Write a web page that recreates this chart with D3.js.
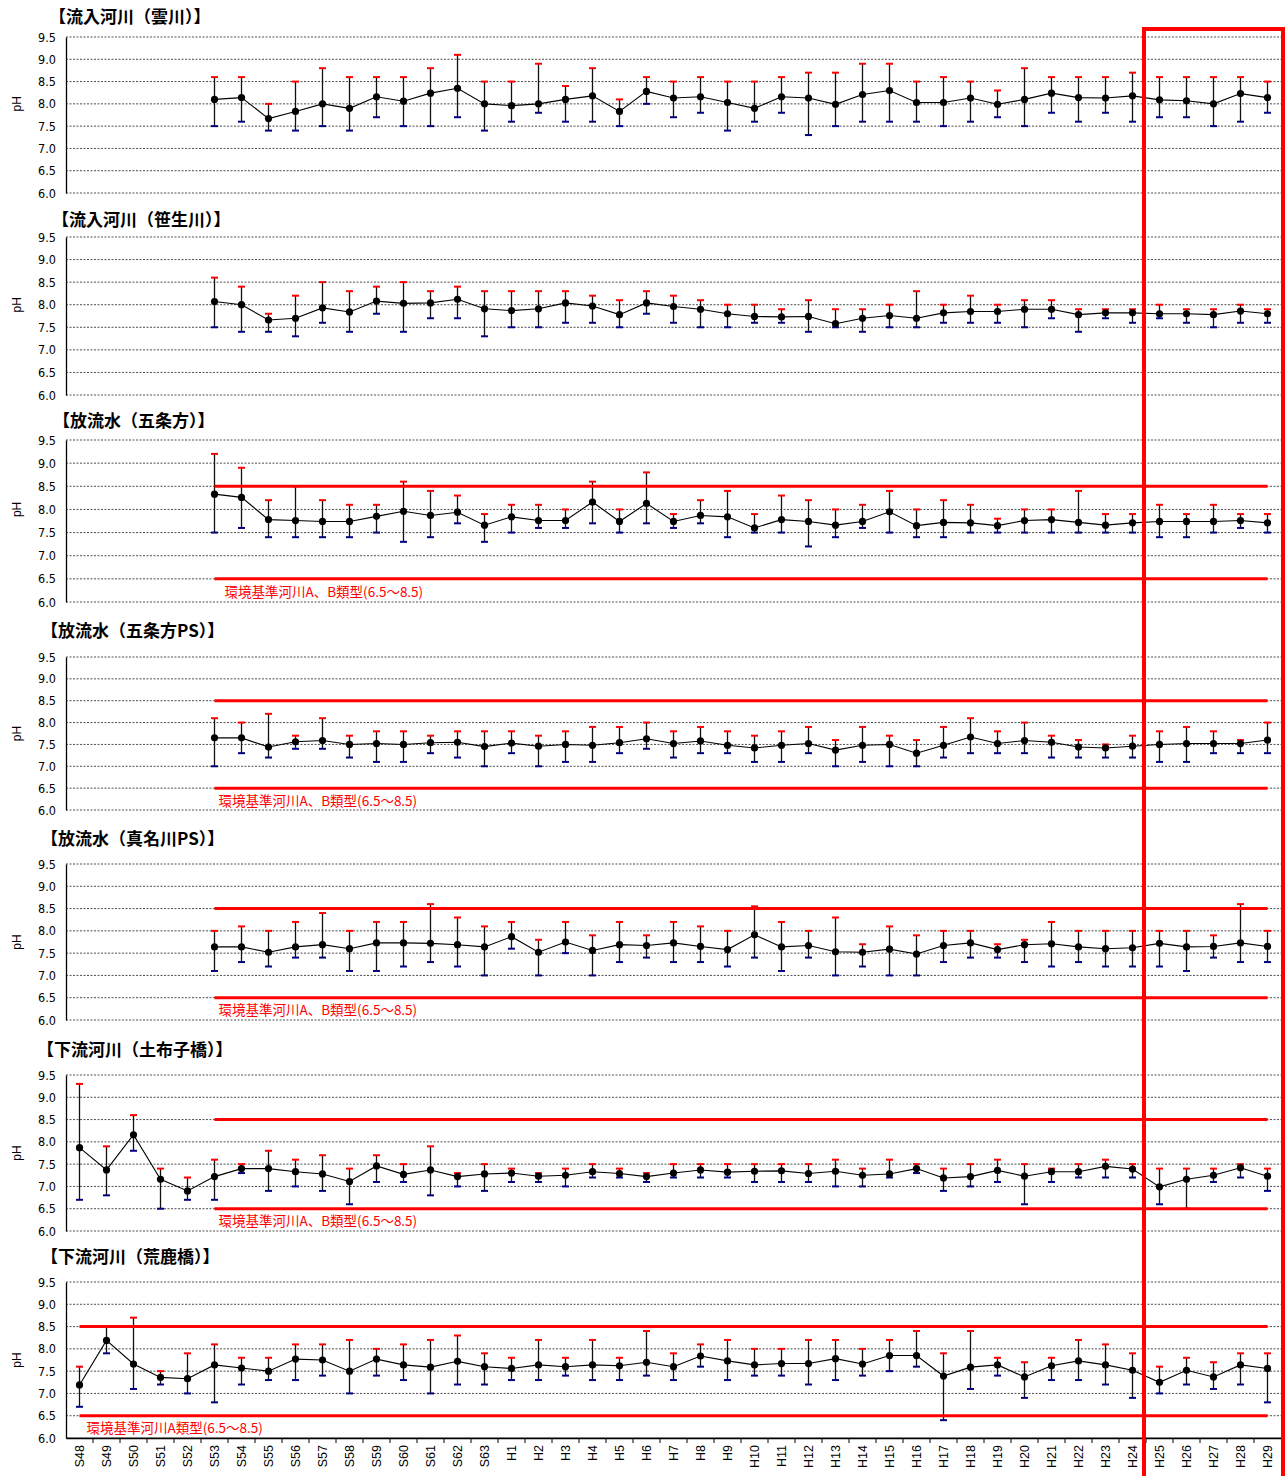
<!DOCTYPE html>
<html>
<head>
<meta charset="utf-8">
<script src="https://cdn.jsdelivr.net/npm/d3@7"></script>
<style>
  body { margin: 0; background: #fff; }
  svg { display: block; }
</style>
</head>
<body>
<svg id="chart" width="1287" height="1476"></svg>
<script>
// categories (fiscal years)
const categories = ["S48", "S49", "S50", "S51", "S52", "S53", "S54", "S55", "S56", "S57", "S58", "S59",
  "S60", "S61", "S62", "S63", "H1", "H2", "H3", "H4", "H5", "H6", "H7", "H8", "H9", "H10", "H11",
  "H12", "H13", "H14", "H15", "H16", "H17", "H18", "H19", "H20", "H21", "H22", "H23", "H24", "H25",
  "H26", "H27", "H28", "H29"];
const yTicks = [6.0, 6.5, 7.0, 7.5, 8.0, 8.5, 9.0, 9.5];

// 流入河川（雲川） S53-H29
const kumoMean = [8.10, 8.14, 7.67, 7.83, 8.00, 7.90, 8.16, 8.06, 8.24, 8.35, 8.00, 7.96, 8.00, 8.10, 8.18, 7.83, 8.28,
  8.13, 8.16, 8.03, 7.90, 8.16, 8.13, 7.99, 8.21, 8.30, 8.03, 8.03, 8.13, 7.99, 8.10, 8.24, 8.14, 8.13, 8.18, 8.09, 8.07, 8.00, 8.23, 8.14];
const kumoMax = [8.6, 8.6, 8.0, 8.5, 8.8, 8.6, 8.6, 8.6, 8.8, 9.1, 8.5, 8.5, 8.9, 8.4, 8.8, 8.1, 8.6,
  8.5, 8.6, 8.5, 8.5, 8.6, 8.7, 8.7, 8.9, 8.9, 8.5, 8.6, 8.5, 8.3, 8.8, 8.6, 8.6, 8.6, 8.7, 8.6, 8.6, 8.6, 8.6, 8.5];
const kumoMin = [7.5, 7.6, 7.4, 7.4, 7.5, 7.4, 7.7, 7.5, 7.5, 7.7, 7.4, 7.6, 7.8, 7.6, 7.6, 7.5, 8.0,
  7.7, 7.8, 7.4, 7.6, 7.8, 7.3, 7.5, 7.6, 7.6, 7.6, 7.5, 7.6, 7.7, 7.5, 7.8, 7.6, 7.8, 7.6, 7.7, 7.7, 7.5, 7.6, 7.8];

// 流入河川（笹生川） S53-H29
const sasouMean = [8.07, 8.00, 7.66, 7.70, 7.93, 7.84, 8.08, 8.03, 8.04, 8.12, 7.91, 7.87, 7.91, 8.04, 7.97, 7.78, 8.04,
  7.96, 7.90, 7.80, 7.74, 7.73, 7.74, 7.58, 7.70, 7.76, 7.70, 7.82, 7.85, 7.85, 7.90, 7.90, 7.78, 7.82, 7.82, 7.80, 7.80, 7.78, 7.86, 7.80];
const sasouMax = [8.6, 8.4, 7.8, 8.2, 8.5, 8.3, 8.4, 8.5, 8.3, 8.4, 8.3, 8.3, 8.3, 8.3, 8.2, 8.1, 8.3,
  8.2, 8.1, 8.0, 8.0, 7.9, 8.1, 7.9, 7.9, 8.0, 8.3, 8.0, 8.2, 8.0, 8.1, 8.1, 7.9, 7.9, 7.9, 8.0, 7.9, 7.9, 8.0, 7.9];
const sasouMin = [7.5, 7.4, 7.4, 7.3, 7.6, 7.4, 7.8, 7.4, 7.7, 7.7, 7.3, 7.5, 7.5, 7.6, 7.6, 7.5, 7.8,
  7.6, 7.5, 7.5, 7.6, 7.6, 7.4, 7.5, 7.4, 7.5, 7.5, 7.6, 7.6, 7.6, 7.5, 7.7, 7.4, 7.7, 7.6, 7.7, 7.6, 7.5, 7.6, 7.6];

// 放流水（五条方） S53-H29
const gojoMean = [8.33, 8.26, 7.78, 7.76, 7.74, 7.74, 7.85, 7.96, 7.87, 7.94, 7.66, 7.84, 7.76, 7.76, 8.16, 7.74, 8.13,
  7.74, 7.87, 7.84, 7.60, 7.78, 7.74, 7.66, 7.74, 7.95, 7.65, 7.72, 7.71, 7.65, 7.76, 7.78, 7.72, 7.66, 7.71, 7.74, 7.74, 7.74, 7.76, 7.71];
const gojoMax = [9.2, 8.9, 8.2, 8.5, 8.2, 8.1, 8.1, 8.6, 8.4, 8.3, 7.9, 8.1, 8.1, 8.0, 8.6, 8.0, 8.8,
  7.9, 8.2, 8.4, 7.9, 8.3, 8.2, 8.0, 8.1, 8.4, 8.0, 8.2, 8.1, 7.8, 8.0, 8.0, 8.4, 7.9, 7.9, 8.1, 7.9, 8.1, 7.9, 7.9];
const gojoMin = [7.5, 7.6, 7.4, 7.4, 7.4, 7.4, 7.5, 7.3, 7.4, 7.7, 7.3, 7.5, 7.6, 7.6, 7.7, 7.5, 7.7,
  7.6, 7.7, 7.4, 7.5, 7.5, 7.2, 7.4, 7.6, 7.5, 7.4, 7.4, 7.5, 7.5, 7.5, 7.5, 7.5, 7.5, 7.5, 7.4, 7.4, 7.5, 7.6, 7.5];

// 放流水（五条方PS） S53-H29
const gojoPsMean = [7.65, 7.65, 7.44, 7.56, 7.59, 7.50, 7.52, 7.50, 7.54, 7.55, 7.45, 7.53, 7.46, 7.50, 7.48, 7.54, 7.63,
  7.52, 7.58, 7.48, 7.42, 7.48, 7.52, 7.37, 7.48, 7.50, 7.30, 7.48, 7.67, 7.52, 7.59, 7.55, 7.44, 7.42, 7.46, 7.50, 7.52, 7.52, 7.52, 7.60];
const gojoPsMax = [8.1, 8.0, 8.2, 7.7, 8.1, 7.7, 7.8, 7.8, 7.7, 7.8, 7.8, 7.8, 7.7, 7.8, 7.9, 7.9, 8.0,
  7.8, 7.9, 7.8, 7.7, 7.8, 7.9, 7.6, 7.9, 7.7, 7.6, 7.9, 8.1, 7.8, 8.0, 7.7, 7.6, 7.5, 7.7, 7.8, 7.9, 7.8, 7.6, 8.0];
const gojoPsMin = [7.0, 7.3, 7.2, 7.4, 7.4, 7.2, 7.1, 7.1, 7.3, 7.2, 7.0, 7.3, 7.0, 7.1, 7.1, 7.3, 7.4,
  7.2, 7.3, 7.3, 7.1, 7.1, 7.3, 7.0, 7.1, 7.0, 7.0, 7.2, 7.3, 7.3, 7.3, 7.2, 7.2, 7.2, 7.2, 7.1, 7.1, 7.3, 7.3, 7.3];

// 放流水（真名川PS） S53-H29
const manaPsMean = [7.64, 7.64, 7.52, 7.64, 7.69, 7.60, 7.73, 7.73, 7.72, 7.69, 7.64, 7.87, 7.52, 7.75, 7.56, 7.69, 7.67,
  7.73, 7.65, 7.58, 7.91, 7.64, 7.67, 7.53, 7.52, 7.59, 7.48, 7.67, 7.73, 7.58, 7.69, 7.71, 7.64, 7.60, 7.62, 7.72, 7.64, 7.65, 7.73, 7.65];
const manaPsMax = [8.0, 8.1, 8.0, 8.2, 8.4, 8.0, 8.2, 8.2, 8.6, 8.3, 8.1, 8.2, 7.8, 8.2, 7.9, 8.2, 7.9,
  8.2, 8.1, 8.0, 8.55, 8.2, 8.0, 8.3, 7.7, 8.1, 7.9, 8.0, 8.0, 7.7, 7.8, 8.2, 8.0, 8.0, 8.0, 8.0, 8.0, 7.9, 8.6, 8.0];
const manaPsMin = [7.1, 7.3, 7.2, 7.4, 7.4, 7.1, 7.1, 7.2, 7.3, 7.2, 7.0, 7.6, 7.0, 7.5, 7.0, 7.3, 7.4,
  7.3, 7.3, 7.2, 7.4, 7.1, 7.4, 7.0, 7.2, 7.0, 7.0, 7.3, 7.4, 7.4, 7.3, 7.2, 7.3, 7.2, 7.2, 7.2, 7.1, 7.4, 7.3, 7.3];

// 下流河川（土布子橋） S48-H29
const tofukoMean = [7.87, 7.37, 8.16, 7.16, 6.90, 7.22, 7.40, 7.40, 7.33, 7.28, 7.11, 7.46, 7.27, 7.37, 7.22, 7.28,
  7.30, 7.23, 7.25, 7.33, 7.29, 7.22, 7.30, 7.37, 7.32, 7.34, 7.35, 7.29, 7.34, 7.25, 7.28, 7.40, 7.19, 7.22, 7.36,
  7.23, 7.33, 7.33, 7.45, 7.39, 6.99, 7.16, 7.25, 7.42, 7.23];
const tofukoMax = [9.3, 7.9, 8.6, 7.4, 7.2, 7.6, 7.5, 7.8, 7.6, 7.7, 7.4, 7.7, 7.5, 7.9, 7.3, 7.5,
  7.4, 7.3, 7.4, 7.5, 7.4, 7.3, 7.5, 7.5, 7.5, 7.5, 7.5, 7.5, 7.6, 7.4, 7.6, 7.5, 7.4, 7.5, 7.6,
  7.5, 7.4, 7.5, 7.6, 7.5, 7.4, 7.4, 7.4, 7.5, 7.4];
const tofukoMin = [6.7, 6.8, 7.8, 6.5, 6.7, 6.7, 7.3, 6.9, 7.0, 6.9, 6.6, 7.1, 7.1, 6.8, 7.0, 6.9,
  7.1, 7.1, 7.0, 7.2, 7.2, 7.1, 7.2, 7.2, 7.2, 7.1, 7.1, 7.1, 7.0, 7.0, 7.2, 7.3, 6.9, 7.0, 7.1,
  6.6, 7.1, 7.2, 7.2, 7.2, 6.6, 6.5, 7.1, 7.2, 6.9];

// 下流河川（荒鹿橋） S48-H29
const arashikaMean = [7.19, 8.19, 7.66, 7.36, 7.33, 7.64, 7.57, 7.50, 7.77, 7.75, 7.50, 7.77, 7.64, 7.59, 7.72, 7.60,
  7.56, 7.64, 7.60, 7.64, 7.62, 7.70, 7.60, 7.84, 7.73, 7.64, 7.67, 7.67, 7.78, 7.66, 7.85, 7.85, 7.39, 7.59, 7.64,
  7.37, 7.62, 7.73, 7.64, 7.52, 7.25, 7.52, 7.37, 7.64, 7.56];
const arashikaMax = [7.6, 8.5, 8.7, 7.5, 7.9, 8.1, 7.8, 7.8, 8.1, 8.1, 8.2, 8.0, 8.1, 8.2, 8.3, 7.9,
  7.8, 8.2, 7.8, 8.2, 7.8, 8.4, 7.9, 8.1, 8.2, 8.0, 8.0, 8.2, 8.2, 8.0, 8.2, 8.4, 7.9, 8.4, 7.8,
  7.7, 7.8, 8.2, 8.1, 7.9, 7.6, 7.8, 7.7, 7.9, 7.9];
const arashikaMin = [6.7, 7.9, 7.1, 7.2, 7.0, 6.8, 7.2, 7.3, 7.3, 7.4, 7.0, 7.4, 7.3, 7.0, 7.2, 7.2,
  7.3, 7.3, 7.4, 7.3, 7.3, 7.4, 7.3, 7.6, 7.3, 7.4, 7.4, 7.2, 7.3, 7.4, 7.5, 7.6, 6.4, 7.1, 7.4,
  6.9, 7.3, 7.3, 7.2, 6.9, 7.0, 7.2, 7.1, 7.2, 6.8];

const standardAB = [6.5, 8.5];
const labelAB = "環境基準河川A、B類型(6.5～8.5)";
const labelA = "環境基準河川A類型(6.5～8.5)";

const panels = [
  {title: "【流入河川（雲川）】", mean: kumoMean, max: kumoMax, min: kumoMin, start: "S53",
    top: 37, bottom: 193, titleX: 49, titleY: 17, phAt: 8.0, std: null},
  {title: "【流入河川（笹生川）】", mean: sasouMean, max: sasouMax, min: sasouMin, start: "S53",
    top: 237, bottom: 395, titleX: 52, titleY: 220, phAt: 8.0, std: null},
  {title: "【放流水（五条方）】", mean: gojoMean, max: gojoMax, min: gojoMin, start: "S53",
    top: 440, bottom: 602, titleX: 53, titleY: 421, phAt: 8.0, std: labelAB, stdStart: "S53", labelDx: 10},
  {title: "【放流水（五条方PS）】", mean: gojoPsMean, max: gojoPsMax, min: gojoPsMin, start: "S53",
    top: 657, bottom: 810, titleX: 41, titleY: 631, phAt: null, std: labelAB, stdStart: "S53", labelDx: 4},
  {title: "【放流水（真名川PS）】", mean: manaPsMean, max: manaPsMax, min: manaPsMin, start: "S53",
    top: 864, bottom: 1020, titleX: 41, titleY: 839, phAt: null, std: labelAB, stdStart: "S53", labelDx: 4},
  {title: "【下流河川（土布子橋）】", mean: tofukoMean, max: tofukoMax, min: tofukoMin, start: "S48",
    top: 1075, bottom: 1231, titleX: 37, titleY: 1050, phAt: null, std: labelAB, stdStart: "S53", labelDx: 4},
  {title: "【下流河川（荒鹿橋）】", mean: arashikaMean, max: arashikaMax, min: arashikaMin, start: "S48",
    top: 1282, bottom: 1438, titleX: 41, titleY: 1257, phAt: null, std: labelA, stdStart: "S48", labelDx: 7, xAxis: true}
];

const svg = d3.select("#chart");
const left = 66, right = 1281;
const x = d3.scaleBand().domain(categories).range([left, right]);
const cx = c => x(c) + x.bandwidth() / 2;
const jpFont = "'Noto Sans CJK JP', 'Noto Sans', sans-serif";
const numFont = "'Liberation Sans Narrow', 'DejaVu Sans Condensed', 'Liberation Sans', sans-serif";

panels.forEach(p => {
  const y = d3.scaleLinear().domain([6.0, 9.5]).range([p.bottom, p.top]);
  const g = svg.append("g");
  const startIdx = categories.indexOf(p.start);
  const rows = categories.slice(startIdx).map((c, i) => ({c: c, mean: p.mean[i], max: p.max[i], min: p.min[i]}));

  // title
  g.append("text")
    .attr("x", p.titleX).attr("y", p.titleY)
    .attr("dy", "0.36em")
    .style("font-family", jpFont)
    .style("font-size", "17px")
    .style("font-weight", "bold")
    .attr("fill", "#000")
    .text(p.title);

  // grid lines
  const edge = d => d === 9.5 || (d === 6.0 && !p.xAxis);
  g.append("g").selectAll("line").data(yTicks).enter().append("line")
    .attr("x1", left).attr("x2", right)
    .attr("y1", d => y(d)).attr("y2", d => y(d))
    .attr("stroke", d => edge(d) ? "#8c8c8c" : "#3a3a3a")
    .attr("stroke-width", d => edge(d) ? 1.6 : 0.9)
    .attr("stroke-dasharray", d => (d === 6.0 && p.xAxis) ? null : "2,1.5");

  // y axis
  const yAxis = g.append("g")
    .attr("transform", "translate(" + left + ",0)")
    .call(d3.axisLeft(y).tickValues(yTicks).tickFormat(d3.format(".1f")).tickSize(0).tickPadding(10));
  yAxis.select(".domain").attr("stroke", "#000").attr("stroke-width", 1.3);
  yAxis.selectAll("text")
    .style("font-family", numFont)
    .style("font-size", "12.5px")
    .attr("fill", "#000");

  const phY = p.phAt !== null ? y(p.phAt) : (p.top + p.bottom) / 2;
  g.append("text")
    .attr("transform", "translate(17," + phY + ") rotate(-90)")
    .attr("text-anchor", "middle")
    .attr("dy", "0.35em")
    .style("font-family", "'Liberation Sans', Arial, sans-serif")
    .style("font-size", "12px")
    .text("pH");

  // x axis on the last panel only
  if (p.xAxis) {
    const xAxis = g.append("g")
      .attr("transform", "translate(0," + p.bottom + ")")
      .call(d3.axisBottom(x).tickSize(0));
    xAxis.select(".domain").attr("stroke", "#000").attr("stroke-width", 1.5);
    xAxis.selectAll("text")
      .attr("y", 0).attr("x", -7).attr("dy", "0.35em")
      .attr("transform", "rotate(-90)")
      .style("text-anchor", "end")
      .style("font-family", "'Liberation Sans', Arial, sans-serif")
      .style("font-size", "12.5px")
      .attr("fill", "#000");
    g.append("g").selectAll("line").data(categories.slice(1)).enter().append("line")
      .attr("x1", d => x(d)).attr("x2", d => x(d))
      .attr("y1", p.bottom).attr("y2", p.bottom + 5)
      .attr("stroke", "#000").attr("stroke-width", 1);
  }

  // error bars
  const bars = g.append("g").selectAll("g").data(rows).enter().append("g");
  bars.append("line")
    .attr("x1", d => cx(d.c)).attr("x2", d => cx(d.c))
    .attr("y1", d => y(d.max)).attr("y2", d => y(d.min))
    .attr("stroke", "#111").attr("stroke-width", 1.3);
  bars.append("line")
    .attr("x1", d => cx(d.c) - 3.5).attr("x2", d => cx(d.c) + 3.5)
    .attr("y1", d => y(d.max)).attr("y2", d => y(d.max))
    .attr("stroke", "#ff0000").attr("stroke-width", 2);
  bars.append("line")
    .attr("x1", d => cx(d.c) - 3.5).attr("x2", d => cx(d.c) + 3.5)
    .attr("y1", d => y(d.min)).attr("y2", d => y(d.min))
    .attr("stroke", "#000080").attr("stroke-width", 2);

  // environmental standard lines
  if (p.std) {
    const x0 = cx(p.stdStart), x1 = cx(categories[categories.length - 1]);
    g.append("g").selectAll("line").data(standardAB).enter().append("line")
      .attr("x1", x0).attr("x2", x1)
      .attr("y1", d => y(d)).attr("y2", d => y(d))
      .attr("stroke", "#ff0000").attr("stroke-width", 3);
    g.append("text")
      .attr("x", x0 + p.labelDx).attr("y", y(6.5) + 13)
      .attr("dy", "0.35em")
      .style("font-family", jpFont)
      .style("font-size", "13.5px")
      .attr("fill", "#ff0000")
      .text(p.std);
  }

  // mean line and markers
  const line = d3.line().x(d => cx(d.c)).y(d => y(d.mean));
  g.append("path").datum(rows)
    .attr("d", line)
    .attr("fill", "none")
    .attr("stroke", "#000")
    .attr("stroke-width", 1.1);
  g.append("g").selectAll("circle").data(rows).enter().append("circle")
    .attr("cx", d => cx(d.c)).attr("cy", d => y(d.mean))
    .attr("r", 3.6)
    .attr("fill", "#000");
});

// highlight frame around H25-H29
const frameLeft = x("H25") - 2;
svg.append("rect")
  .attr("x", frameLeft).attr("y", 29)
  .attr("width", right + 2 - frameLeft).attr("height", 1500)
  .attr("fill", "none")
  .attr("stroke", "#ff0000")
  .attr("stroke-width", 4);
</script>
</body>
</html>
